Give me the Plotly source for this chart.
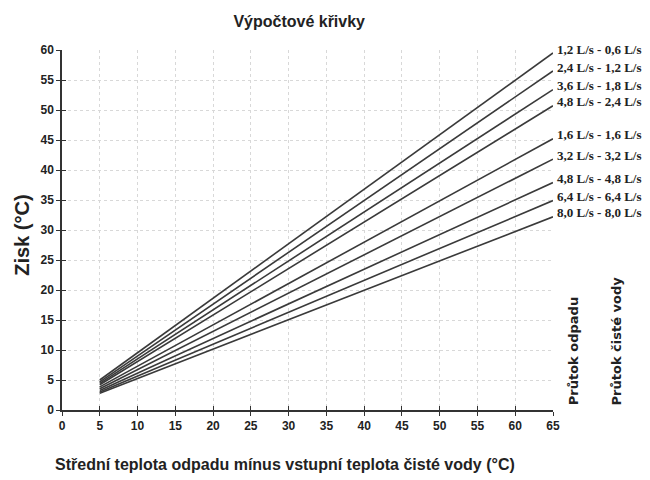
import plotly.graph_objects as go

x_points = [5, 65]
labels = ["1,2 L/s - 0,6 L/s", "2,4 L/s - 1,2 L/s", "3,6 L/s - 1,8 L/s", "4,8 L/s - 2,4 L/s",
          "1,6 L/s - 1,6 L/s", "3,2 L/s - 3,2 L/s", "4,8 L/s - 4,8 L/s", "6,4 L/s - 6,4 L/s",
          "8,0 L/s - 8,0 L/s"]
y_start = [5.0, 4.7, 4.45, 4.2, 3.85, 3.55, 3.25, 3.0, 2.8]
y_end = [59.5, 56.5, 53.4, 50.7, 45.2, 41.8, 37.9, 34.9, 32.2]
x_ticks = list(range(0, 70, 5))
y_ticks = list(range(0, 65, 5))

SANS = "Liberation Sans"
fig = go.Figure()
for lab, a, b in zip(labels, y_start, y_end):
    fig.add_trace(go.Scatter(x=x_points, y=[a, b], mode="lines", name=lab,
                             line=dict(color="#3a3a3a", width=1.6), showlegend=False))
    fig.add_annotation(x=65, y=b, xref="x", yref="y", text="<b>" + lab + "</b>",
                       showarrow=False, xanchor="left", xshift=2, yshift=4,
                       font=dict(family="Liberation Serif", size=13, color="#222"))

# invisible trace to carry the inner tick marks
fig.add_trace(go.Scatter(x=[0], y=[0], xaxis="x2", yaxis="y2", mode="markers",
                         marker=dict(opacity=0), showlegend=False, hoverinfo="skip"))

fig.add_annotation(x=1.041, y=0.008, xref="paper", yref="paper", text="<b>Průtok odpadu</b>",
                   textangle=-90, showarrow=False, xanchor="center", yanchor="bottom",
                   font=dict(family="DejaVu Sans", size=13, color="#222"))
fig.add_annotation(x=1.130, y=0.008, xref="paper", yref="paper", text="<b>Průtok čisté vody</b>",
                   textangle=-90, showarrow=False, xanchor="center", yanchor="bottom",
                   font=dict(family="DejaVu Sans", size=13, color="#222"))

fig.add_annotation(x=-0.082, y=0.486, xref="paper", yref="paper", text="<b>Zisk (°C)</b>",
                   textangle=-90, showarrow=False, xanchor="center", yanchor="middle",
                   font=dict(family=SANS, size=20, color="#222"))
fig.add_annotation(x=0.455, y=-0.152, xref="paper", yref="paper",
                   text="<b>Střední teplota odpadu mínus vstupní teplota čisté vody (°C)</b>",
                   showarrow=False, xanchor="center", yanchor="middle",
                   font=dict(family=SANS, size=16, color="#222"))

axis_common = dict(showline=True, linecolor="#333", linewidth=1.5, ticks="outside", ticklen=4,
                   tickcolor="#333", showgrid=True, gridcolor="#d8d8d8", griddash="dot",
                   zeroline=False, automargin=False,
                   tickfont=dict(family=SANS, size=12, color="#222"))

fig.update_layout(
    width=650, height=480,
    margin=dict(l=54, r=105, t=42, b=78),
    paper_bgcolor="white", plot_bgcolor="white",
    title=dict(text="<b>Výpočtové křivky</b>", x=0.448, xanchor="center", y=0.983,
               font=dict(family=SANS, size=16, color="#222")),
    xaxis=dict(range=[0, 65], tickvals=x_ticks, ticktext=["<b>%d</b>" % v for v in x_ticks],
               **axis_common),
    yaxis=dict(range=[0, 60], tickvals=y_ticks, ticktext=["<b>%d</b>" % v for v in y_ticks],
               **axis_common),
    xaxis2=dict(range=[0, 65], overlaying="x", tickvals=x_ticks, showticklabels=False,
                ticks="inside", ticklen=4, tickcolor="#333", showgrid=False, showline=False,
                zeroline=False, automargin=False),
    yaxis2=dict(range=[0, 60], overlaying="y", tickvals=y_ticks, showticklabels=False,
                ticks="inside", ticklen=4, tickcolor="#333", showgrid=False, showline=False,
                zeroline=False, automargin=False),
)

fig.write_html("out.html")
